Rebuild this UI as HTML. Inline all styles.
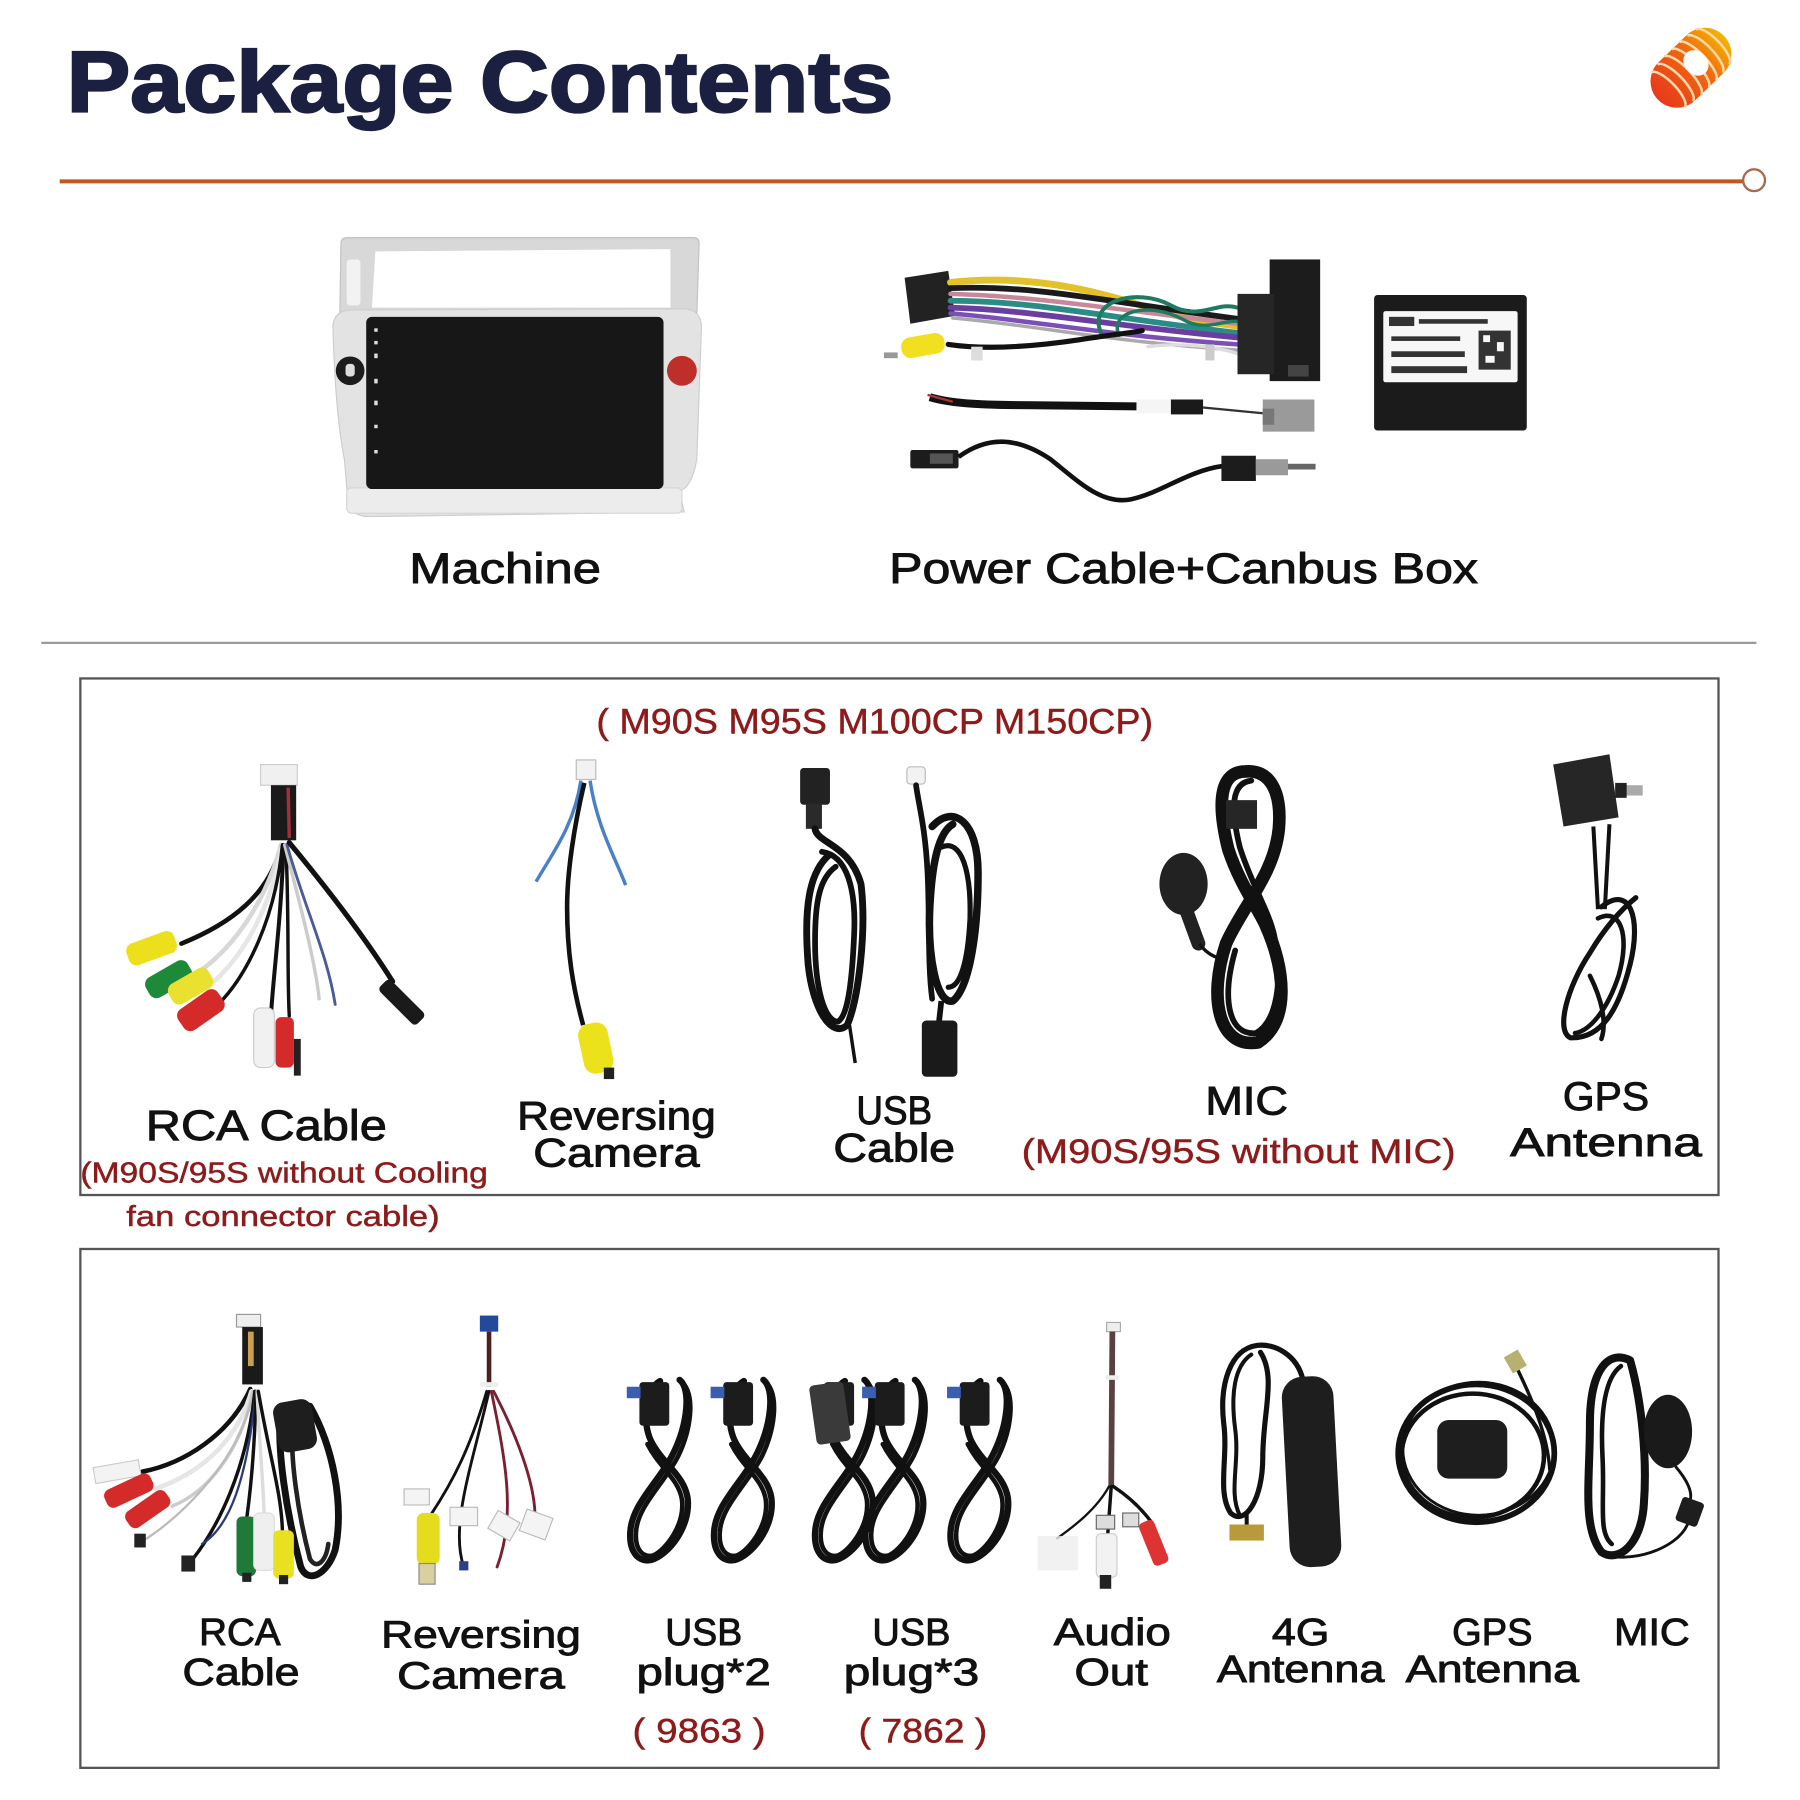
<!DOCTYPE html>
<html><head><meta charset="utf-8"><style>
html,body{margin:0;padding:0;background:#fff;}
svg{display:block;}
text{font-family:"Liberation Sans",Arial,sans-serif;}
.lb{fill:#111;stroke:#111;stroke-width:0.8;}
.rd{fill:#8e1b1b;stroke:#8e1b1b;stroke-width:0.4;}
.c{fill:none;stroke:#111;stroke-linecap:round;stroke-linejoin:round;}
</style></head><body>
<svg width="1800" height="1800" viewBox="0 0 1568 1568" xmlns="http://www.w3.org/2000/svg">
<defs>
<linearGradient id="sg" x1="0" y1="0" x2="1" y2="0">
<stop offset="0" stop-color="#e8381c"/><stop offset="0.6" stop-color="#f06a10"/><stop offset="1" stop-color="#f5b400"/>
</linearGradient>
<g id="u8">
<path class="c" stroke-width="5.5" d="M45,2 C55,10 52,40 40,65 C28,90 3,110 2,135 C1,153 10,161 20,159 C35,155 55,130 52,105 C49,85 30,75 20,55 C12,38 15,10 28,3"/>
<path class="c" stroke-width="4" d="M49,6 C58,18 55,45 44,68 C32,92 8,112 7,135 C6,150 13,157 22,155 C33,150 50,128 47,106 C44,88 27,78 17,58"/>
<rect x="10" y="4" width="26" height="38" rx="3" fill="#1c1c1c"/>
<rect x="-1" y="8" width="12" height="10" fill="#3a5fb0"/>
</g>
</defs>
<rect width="1568" height="1568" fill="#fff"/>

<!-- Title -->
<text x="58" y="97" font-size="75" font-weight="bold" fill="#1c2040" stroke="#1c2040" stroke-width="2" textLength="720" lengthAdjust="spacingAndGlyphs">Package Contents</text>

<!-- spring icon -->
<g transform="translate(1473,59) rotate(-44)">
<rect x="-40" y="-23" width="80" height="46" rx="23" fill="url(#sg)"/>
<path d="M-28,-21 a7 21 0 0 1 0 42 M-19,-22 a7 22 0 0 1 0 44 M-10,-23 a7 23 0 0 1 0 46 M-1,-23 a7 23 0 0 1 0 46 M8,-23 a7 23 0 0 1 0 46 M17,-22 a7 22 0 0 1 0 44 M26,-21 a7 21 0 0 1 0 42" fill="none" stroke="#ffd9a8" stroke-width="2.2"/>
<ellipse cx="6" cy="0" rx="10" ry="12" fill="#fff"/>
</g>

<!-- orange line -->
<line x1="52" y1="158" x2="1518" y2="158" stroke="#c4561c" stroke-width="3.5"/>
<circle cx="1528" cy="157" r="9.5" fill="#fff" stroke="#a8684a" stroke-width="2"/>

<!-- Machine -->
<path d="M297,212 Q297,207 303,207 L604,207 Q609,207 609,212 L607,274 L296,274 Z" fill="#d8d8d8" stroke="#c2c2c2"/>
<path d="M327,219 L584,217 L584,268 L324,268 Z" fill="#fff"/>
<rect x="302" y="226" width="12" height="40" rx="3" fill="#f2f2f2"/>
<path d="M290,284 Q291,271 305,270 L598,269 Q611,271 611,285 L607,400 Q603,424 592,428 L596,446 L320,450 Q305,449 303,436 L300,400 Q292,360 290,284 Z" fill="#e3e3e3" stroke="#cdcdcd"/>
<rect x="302" y="425" width="292" height="22" rx="4" fill="#ececec" stroke="#d6d6d6"/>
<rect x="319" y="276" width="259" height="150" rx="5" fill="#171717"/>
<circle cx="305" cy="323" r="12.5" fill="#1c1c1c"/>
<rect x="301" y="317" width="8" height="11" rx="3" fill="#ddd"/>
<circle cx="594" cy="323" r="13" fill="#bf2f2a"/>
<g fill="#ddd"><rect x="326" y="286" width="3" height="3"/><rect x="326" y="297" width="3" height="3"/><rect x="326" y="308" width="3" height="4"/><rect x="326" y="330" width="3" height="4"/><rect x="326" y="349" width="3" height="4"/><rect x="326" y="370" width="3" height="3"/><rect x="326" y="392" width="3" height="3"/></g>

<!-- Power cable -->
<polygon points="788,242 826,236 832,275 793,282" fill="#222"/>
<g fill="none" stroke-linecap="round">
<path d="M828,246 C900,238 960,255 1000,268 C1030,278 1060,282 1078,284" stroke="#e3c12a" stroke-width="6"/>
<path d="M828,251 C900,248 960,262 1080,278" stroke="#1a1a1a" stroke-width="5"/>
<path d="M828,256 C900,258 960,268 1078,282" stroke="#c9889a" stroke-width="4"/>
<path d="M828,262 C900,262 960,276 1078,290" stroke="#2a8c84" stroke-width="5"/>
<path d="M828,268 C900,270 960,283 1078,294" stroke="#6a3ea0" stroke-width="5"/>
<path d="M828,273 C900,279 960,292 1078,300" stroke="#7b4fb5" stroke-width="4"/>
<path d="M830,277 C900,283 960,297 1078,305" stroke="#aaa" stroke-width="3"/>
<path d="M960,292 C945,262 990,250 1020,266 C1045,280 1060,262 1078,268" stroke="#1e7a60" stroke-width="3.5"/>
<path d="M975,292 C965,272 1000,262 1030,278 C1050,290 1065,278 1080,280" stroke="#1e7a60" stroke-width="3"/>
<path d="M1000,302 C1030,298 1060,302 1078,308" stroke="#ddd" stroke-width="3"/>
<path d="M826,300 C860,305 900,302 940,296 C965,292 985,290 995,288" stroke="#111" stroke-width="4.5"/>
</g>
<rect x="1106" y="226" width="44" height="106" fill="#1c1c1c"/>
<rect x="1078" y="256" width="32" height="70" fill="#262626"/>
<rect x="1122" y="318" width="18" height="10" fill="#444"/>
<rect x="785" y="292" width="38" height="18" rx="8" fill="#f0e020" transform="rotate(-10 804 301)"/>
<rect x="770" y="307" width="12" height="5" fill="#999"/>
<rect x="846" y="302" width="10" height="12" fill="#ddd"/>
<rect x="1050" y="300" width="8" height="14" fill="#ccc"/>
<path d="M810,346 C830,352 860,353 900,353 L990,354" fill="none" stroke="#111" stroke-width="7"/>
<path d="M808,344 L830,350" stroke="#a33" stroke-width="2"/>
<rect x="990" y="348" width="30" height="12" fill="#f5f5f5"/>
<rect x="1020" y="348" width="28" height="13" fill="#1a1a1a"/>
<path d="M1048,355 L1100,360" stroke="#333" stroke-width="2"/>
<rect x="1100" y="348" width="45" height="28" fill="#9a9a9a"/>
<rect x="1100" y="356" width="10" height="14" fill="#777"/>
<rect x="793" y="392" width="42" height="16" rx="2" fill="#1c1c1c"/>
<rect x="810" y="395" width="20" height="9" fill="#555"/>
<path d="M835,398 C860,380 885,380 915,400 C940,420 960,440 985,435 C1010,430 1035,410 1065,406" fill="none" stroke="#111" stroke-width="4"/>
<rect x="1064" y="397" width="30" height="22" fill="#1c1c1c"/>
<rect x="1094" y="400" width="28" height="14" fill="#9a9a9a"/>
<rect x="1122" y="404" width="24" height="5" fill="#666"/>
<!-- canbus -->
<rect x="1197" y="257" width="133" height="118" rx="3" fill="#1b1b1b"/>
<rect x="1205" y="271" width="117" height="62" rx="2" fill="#f7f7f7"/>
<g fill="#333"><rect x="1210" y="276" width="22" height="8"/><rect x="1236" y="278" width="60" height="4"/><rect x="1212" y="293" width="60" height="4"/><rect x="1212" y="306" width="64" height="5"/><rect x="1212" y="319" width="66" height="6"/><rect x="1288" y="288" width="28" height="34"/></g>
<g fill="#f7f7f7"><rect x="1292" y="292" width="6" height="6"/><rect x="1304" y="298" width="6" height="8"/><rect x="1294" y="310" width="8" height="6"/></g>

<text x="440" y="508" font-size="37" class="lb" text-anchor="middle" textLength="167" lengthAdjust="spacingAndGlyphs">Machine</text>
<text x="1031" y="508" font-size="37" class="lb" text-anchor="middle" textLength="513" lengthAdjust="spacingAndGlyphs">Power Cable+Canbus Box</text>

<line x1="36" y1="560" x2="1530" y2="560" stroke="#9a9a9a" stroke-width="2"/>

<!-- Box 1 -->
<rect x="70" y="591" width="1427" height="450" fill="none" stroke="#555" stroke-width="2"/>
<text x="762" y="639" font-size="31" class="rd" text-anchor="middle" textLength="485" lengthAdjust="spacingAndGlyphs">( M90S M95S M100CP M150CP)</text>

<!-- RCA row1 -->
<rect x="227" y="666" width="32" height="18" fill="#f0f0f0" stroke="#ccc"/>
<rect x="236" y="684" width="22" height="48" fill="#1a1a1a"/>
<path d="M251,686 L252,730" stroke="#a0303a" stroke-width="3"/>
<g fill="none" stroke-linecap="round">
<path d="M245,736 C235,780 200,805 158,822" stroke="#111" stroke-width="4"/>
<path d="M245,736 C230,790 200,830 168,850" stroke="#d8d8d8" stroke-width="4"/>
<path d="M246,736 C235,795 210,835 183,858" stroke="#e6e6e6" stroke-width="4"/>
<path d="M246,736 C240,800 215,850 190,875" stroke="#111" stroke-width="3"/>
<path d="M247,736 C245,800 238,850 236,885" stroke="#111" stroke-width="3.5"/>
<path d="M249,736 C252,800 250,850 252,885" stroke="#111" stroke-width="3"/>
<path d="M248,736 C262,790 275,840 278,870" stroke="#ccc" stroke-width="3"/>
<path d="M250,736 C265,790 285,830 292,875" stroke="#4a5a9a" stroke-width="2.5"/>
<path d="M252,734 C290,780 320,820 342,855" stroke="#111" stroke-width="4.5"/>
</g>
<rect x="110" y="816" width="44" height="20" rx="7" fill="#ecdf1c" transform="rotate(-20 132 826)"/>
<rect x="126" y="843" width="42" height="20" rx="7" fill="#1d8a3a" transform="rotate(-30 147 853)"/>
<rect x="146" y="849" width="40" height="20" rx="7" fill="#e9e030" transform="rotate(-30 166 859)"/>
<rect x="154" y="869" width="42" height="22" rx="7" fill="#d42a2a" transform="rotate(-35 175 880)"/>
<rect x="221" y="878" width="18" height="52" rx="6" fill="#f1f1f1" stroke="#ccc"/>
<rect x="240" y="886" width="16" height="44" rx="5" fill="#d42a2a"/>
<rect x="256" y="905" width="6" height="32" fill="#222"/>
<rect x="343" y="850" width="14" height="46" rx="4" fill="#1a1a1a" transform="rotate(-45 350 873)"/>

<!-- Reversing row1 -->
<rect x="502" y="662" width="17" height="17" fill="#f2f2f2" stroke="#bbb"/>
<path d="M506,680 C500,720 480,745 467,768" fill="none" stroke="#4a80c8" stroke-width="3"/>
<path d="M514,680 C520,720 535,745 545,771" fill="none" stroke="#4a80c8" stroke-width="3"/>
<path d="M509,682 C500,720 494,760 494,790 C494,830 499,860 508,893" fill="none" stroke="#111" stroke-width="4"/>
<rect x="506" y="891" width="26" height="44" rx="10" fill="#ece21c" transform="rotate(-12 519 913)"/>
<rect x="526" y="930" width="9" height="10" fill="#222"/>

<!-- USB row1 -->
<rect x="697" y="669" width="26" height="32" rx="3" fill="#222"/>
<rect x="702" y="700" width="14" height="22" fill="#2a2a2a"/>
<path class="c" stroke-width="6" d="M710,722 C712,735 740,735 750,770 C755,810 748,870 738,893 C725,905 708,880 704,840 C700,790 705,760 722,745"/>
<path class="c" stroke-width="5" d="M716,742 C738,745 746,775 744,815 C742,860 738,885 730,890 C718,890 710,860 710,820 C710,785 714,765 728,755"/>
<path d="M740,893 L745,926" stroke="#111" stroke-width="3"/>
<rect x="790" y="668" width="16" height="15" rx="3" fill="#f2f2f2" stroke="#bbb"/>
<path class="c" stroke-width="5" d="M798,684 C800,700 806,720 808,760 C810,800 808,840 812,870"/>
<path class="c" stroke-width="6.5" d="M812,720 C830,700 852,715 852,760 C852,810 845,860 830,872 C815,875 808,830 810,790 C812,750 818,725 830,718"/>
<path class="c" stroke-width="4.5" d="M820,738 C838,730 846,760 845,800 C843,840 836,860 826,860"/>
<path d="M820,872 L818,890" stroke="#111" stroke-width="5"/>
<rect x="803" y="889" width="31" height="49" rx="4" fill="#1a1a1a"/>

<!-- MIC row1 -->
<ellipse cx="1031" cy="770" rx="21" ry="27" fill="#222"/>
<path d="M1033,792 L1044,822" stroke="#222" stroke-width="12" stroke-linecap="round"/>
<path d="M1045,822 C1050,830 1058,834 1066,836" fill="none" stroke="#111" stroke-width="3"/>
<path class="c" stroke="#1a1a1a" stroke-width="11" d="M1085,672 C1062,672 1060,700 1070,740 C1080,770 1095,790 1102,805 C1120,845 1124,890 1096,908 C1062,914 1052,870 1068,822 C1082,790 1110,762 1114,722 C1117,688 1105,670 1085,672 Z"/>
<path class="c" stroke="#2a2a2a" stroke-width="5" d="M1090,680 C1072,682 1072,705 1080,738 C1090,770 1106,795 1110,815 C1118,855 1112,890 1094,900 C1070,902 1064,870 1076,828"/>
<rect x="1068" y="697" width="27" height="25" fill="#262626"/>

<!-- GPS row1 -->
<polygon points="1353,666 1402,657 1410,712 1362,720" fill="#262626"/>
<rect x="1407" y="684" width="24" height="9" fill="#aaa"/>
<rect x="1407" y="682" width="10" height="13" fill="#222"/>
<path d="M1388,720 L1392,792 M1402,718 L1398,792" stroke="#111" stroke-width="3.5"/>
<path class="c" stroke-width="4.5" d="M1395,790 C1420,770 1430,800 1420,840 C1410,880 1395,905 1368,904 C1355,898 1365,860 1385,830 C1400,805 1415,790 1425,782"/>
<path class="c" stroke-width="4" d="M1392,800 C1412,790 1420,815 1410,850 C1400,880 1385,898 1372,900 M1385,850 C1395,870 1400,890 1395,905"/>

<!-- Row1 labels -->
<text x="232" y="993" font-size="37" class="lb" text-anchor="middle" textLength="210" lengthAdjust="spacingAndGlyphs">RCA Cable</text>
<text x="70" y="1030" font-size="25" class="rd" textLength="355" lengthAdjust="spacingAndGlyphs">(M90S/95S without Cooling</text>
<text x="110" y="1068" font-size="25" class="rd" textLength="273" lengthAdjust="spacingAndGlyphs">fan connector cable)</text>
<text x="537" y="984" font-size="35" class="lb" text-anchor="middle" textLength="173" lengthAdjust="spacingAndGlyphs">Reversing</text>
<text x="537" y="1016" font-size="35" class="lb" text-anchor="middle" textLength="145" lengthAdjust="spacingAndGlyphs">Camera</text>
<text x="779" y="979" font-size="35" class="lb" text-anchor="middle" textLength="66" lengthAdjust="spacingAndGlyphs">USB</text>
<text x="779" y="1012" font-size="35" class="lb" text-anchor="middle" textLength="106" lengthAdjust="spacingAndGlyphs">Cable</text>
<text x="1086" y="971" font-size="35" class="lb" text-anchor="middle" textLength="72" lengthAdjust="spacingAndGlyphs">MIC</text>
<text x="1079" y="1013" font-size="30" class="rd" text-anchor="middle" textLength="378" lengthAdjust="spacingAndGlyphs">(M90S/95S without MIC)</text>
<text x="1399" y="967" font-size="35" class="lb" text-anchor="middle" textLength="75" lengthAdjust="spacingAndGlyphs">GPS</text>
<text x="1399" y="1007" font-size="35" class="lb" text-anchor="middle" textLength="167" lengthAdjust="spacingAndGlyphs">Antenna</text>

<!-- Box 2 -->
<rect x="70" y="1088" width="1427" height="452" fill="none" stroke="#555" stroke-width="2"/>

<!-- RCA row2 -->
<rect x="206" y="1145" width="21" height="11" fill="#eee" stroke="#999"/>
<rect x="211" y="1156" width="18" height="50" fill="#1a1a1a"/>
<rect x="216" y="1160" width="5" height="30" fill="#c9a050"/>
<g fill="none" stroke-linecap="round">
<path d="M218,1210 C200,1250 160,1275 124,1282" stroke="#111" stroke-width="4"/>
<path d="M219,1212 C205,1260 170,1285 135,1297" stroke="#e6e6e6" stroke-width="4"/>
<path d="M220,1212 C210,1265 180,1300 150,1312" stroke="#ccc" stroke-width="3"/>
<path d="M221,1212 C210,1270 160,1320 125,1342" stroke="#bbb" stroke-width="2"/>
<path d="M222,1212 C215,1280 190,1330 168,1358" stroke="#111" stroke-width="3"/>
<path d="M223,1212 C215,1290 200,1330 176,1345" stroke="#2a3a7a" stroke-width="2"/>
<path d="M223,1212 C222,1260 218,1300 215,1322" stroke="#111" stroke-width="3"/>
<path d="M224,1212 C226,1260 230,1300 230,1320" stroke="#ddd" stroke-width="3"/>
<path d="M225,1212 C235,1270 245,1300 246,1333" stroke="#111" stroke-width="3"/>
<path d="M245,1225 C240,1260 250,1320 262,1365 C268,1380 285,1372 292,1350 C300,1310 290,1260 270,1225" stroke="#111" stroke-width="6"/>
<path d="M255,1235 C252,1270 260,1320 270,1358 C276,1368 284,1360 286,1345" stroke="#222" stroke-width="4"/>
</g>
<rect x="240" y="1220" width="34" height="44" rx="9" fill="#1e1e1e" transform="rotate(-10 257 1242)"/>
<rect x="82" y="1275" width="40" height="14" fill="#f3f3f3" stroke="#ccc" transform="rotate(-10 102 1282)"/>
<rect x="90" y="1290" width="44" height="17" rx="6" fill="#d42a2a" transform="rotate(-25 112 1298)"/>
<rect x="108" y="1306" width="42" height="17" rx="6" fill="#d42a2a" transform="rotate(-35 129 1315)"/>
<rect x="117" y="1336" width="10" height="12" fill="#222"/>
<rect x="158" y="1355" width="12" height="14" fill="#222"/>
<rect x="206" y="1321" width="17" height="52" rx="5" fill="#1f7a3a"/>
<rect x="221" y="1318" width="18" height="50" rx="5" fill="#efefef" stroke="#ddd"/>
<rect x="238" y="1333" width="18" height="42" rx="5" fill="#e9e020"/>
<rect x="211" y="1370" width="8" height="8" fill="#222"/>
<rect x="243" y="1372" width="8" height="8" fill="#222"/>

<!-- Reversing row2 -->
<rect x="418" y="1146" width="16" height="14" fill="#234a9a"/>
<path d="M426,1160 L426,1208" stroke="#4a2020" stroke-width="4"/>
<rect x="418" y="1204" width="16" height="4" fill="#eee"/>
<g fill="none" stroke-linecap="round">
<path d="M424,1212 C410,1260 395,1290 375,1320" stroke="#111" stroke-width="2.5"/>
<path d="M426,1212 C410,1280 392,1330 404,1365" stroke="#111" stroke-width="2.5"/>
<path d="M428,1212 C440,1270 450,1320 433,1365" stroke="#7a2030" stroke-width="2.5"/>
<path d="M430,1212 C450,1250 465,1290 466,1318" stroke="#7a2030" stroke-width="2.5"/>
</g>
<rect x="400" y="1360" width="8" height="8" fill="#2a3f8a"/>
<rect x="363" y="1318" width="20" height="45" rx="6" fill="#e6dc1e"/>
<rect x="365" y="1362" width="14" height="18" fill="#d8d0a0" stroke="#888"/>
<rect x="352" y="1297" width="22" height="14" fill="#f4f4f4" stroke="#bbb"/>
<rect x="392" y="1313" width="24" height="16" fill="#f4f4f4" stroke="#bbb"/>
<rect x="428" y="1320" width="22" height="18" fill="#f4f4f4" stroke="#bbb" transform="rotate(30 439 1329)"/>
<rect x="455" y="1318" width="24" height="20" fill="#f4f4f4" stroke="#bbb" transform="rotate(20 467 1328)"/>

<!-- USB plugs -->
<use href="#u8" x="547" y="1200"/>
<use href="#u8" x="620" y="1200"/>
<use href="#u8" x="708" y="1200"/>
<rect x="708" y="1205" width="30" height="52" rx="4" fill="#3a3a3a" transform="rotate(-8 723 1231)"/>
<use href="#u8" x="752" y="1200"/>
<use href="#u8" x="826" y="1200"/>

<!-- Audio Out -->
<rect x="964" y="1152" width="12" height="8" fill="#eee" stroke="#aaa"/>
<path d="M969,1160 L968,1295" stroke="#5a4040" stroke-width="5"/>
<rect x="963" y="1198" width="12" height="4" fill="#eee"/>
<g fill="none" stroke-linecap="round">
<path d="M966,1295 C955,1315 935,1330 921,1340" stroke="#111" stroke-width="2"/>
<path d="M968,1295 L965,1336" stroke="#111" stroke-width="3"/>
<path d="M970,1295 C985,1305 995,1315 1003,1326" stroke="#111" stroke-width="3"/>
</g>
<rect x="904" y="1338" width="35" height="30" fill="#eee" opacity="0.8"/>
<rect x="955" y="1336" width="18" height="38" rx="4" fill="#f2f2f2" stroke="#ccc"/>
<rect x="958" y="1372" width="10" height="12" fill="#222"/>
<rect x="998" y="1324" width="14" height="40" rx="4" fill="#d33" transform="rotate(-22 1005 1344)"/>
<rect x="955" y="1320" width="16" height="12" fill="#ddd" stroke="#666"/>
<rect x="978" y="1318" width="14" height="12" fill="#ddd" stroke="#666"/>

<!-- 4G Antenna -->
<g class="c">
<path stroke-width="4.5" d="M1135,1202 C1130,1180 1110,1170 1095,1172 C1072,1175 1062,1205 1066,1240 C1070,1270 1060,1300 1072,1318 C1085,1330 1100,1305 1100,1270 C1100,1230 1112,1200 1098,1178"/>
<path stroke-width="3.5" d="M1090,1180 C1075,1190 1072,1215 1076,1245 C1080,1275 1070,1300 1080,1320 M1086,1320 L1086,1332"/>
</g>
<rect x="1120" y="1199" width="45" height="166" rx="18" fill="#1e1e1e" transform="rotate(-3 1142 1282)"/>
<rect x="1071" y="1328" width="30" height="14" fill="#b89a3a"/>

<!-- GPS Antenna row2 -->
<g class="c">
<ellipse cx="1286" cy="1266" rx="68" ry="60" stroke-width="5"/>
<ellipse cx="1283" cy="1268" rx="62" ry="54" stroke-width="4"/>
<ellipse cx="1288" cy="1262" rx="66" ry="58" stroke-width="2.5"/>
<path stroke-width="3" d="M1322,1193 C1335,1220 1348,1250 1350,1280"/>
</g>
<rect x="1252" y="1237" width="61" height="51" rx="10" fill="#1e1e1e"/>
<rect x="1313" y="1178" width="14" height="16" fill="#b8b070" transform="rotate(-30 1320 1186)"/>

<!-- MIC row2 -->
<g class="c">
<path stroke-width="7" d="M1420,1185 C1400,1175 1385,1195 1385,1240 C1385,1290 1378,1330 1395,1352 C1410,1362 1430,1345 1432,1310 C1435,1270 1430,1220 1420,1185"/>
<path stroke-width="4" d="M1412,1190 C1398,1200 1394,1230 1396,1270 C1398,1310 1392,1335 1404,1345"/>
<path stroke-width="2.5" d="M1460,1278 C1470,1290 1475,1300 1472,1308 M1470,1328 C1460,1350 1420,1362 1395,1354"/>
</g>
<ellipse cx="1453" cy="1247" rx="21" ry="32" fill="#1a1a1a"/>
<rect x="1462" y="1306" width="20" height="22" rx="3" fill="#1e1e1e" transform="rotate(20 1472 1317)"/>

<!-- Row2 labels -->
<text x="209" y="1433" font-size="33" class="lb" text-anchor="middle" textLength="71" lengthAdjust="spacingAndGlyphs">RCA</text>
<text x="210" y="1468" font-size="33" class="lb" text-anchor="middle" textLength="102" lengthAdjust="spacingAndGlyphs">Cable</text>
<text x="419" y="1435" font-size="33" class="lb" text-anchor="middle" textLength="174" lengthAdjust="spacingAndGlyphs">Reversing</text>
<text x="419" y="1471" font-size="33" class="lb" text-anchor="middle" textLength="146" lengthAdjust="spacingAndGlyphs">Camera</text>
<text x="613" y="1433" font-size="33" class="lb" text-anchor="middle" textLength="67" lengthAdjust="spacingAndGlyphs">USB</text>
<text x="613" y="1468" font-size="33" class="lb" text-anchor="middle" textLength="117" lengthAdjust="spacingAndGlyphs">plug*2</text>
<text x="609" y="1518" font-size="30" class="rd" text-anchor="middle" textLength="116" lengthAdjust="spacingAndGlyphs">( 9863 )</text>
<text x="794" y="1433" font-size="33" class="lb" text-anchor="middle" textLength="68" lengthAdjust="spacingAndGlyphs">USB</text>
<text x="794" y="1468" font-size="33" class="lb" text-anchor="middle" textLength="118" lengthAdjust="spacingAndGlyphs">plug*3</text>
<text x="804" y="1518" font-size="30" class="rd" text-anchor="middle" textLength="112" lengthAdjust="spacingAndGlyphs">( 7862 )</text>
<text x="969" y="1433" font-size="33" class="lb" text-anchor="middle" textLength="102" lengthAdjust="spacingAndGlyphs">Audio</text>
<text x="968" y="1468" font-size="33" class="lb" text-anchor="middle" textLength="64" lengthAdjust="spacingAndGlyphs">Out</text>
<text x="1133" y="1433" font-size="33" class="lb" text-anchor="middle" textLength="50" lengthAdjust="spacingAndGlyphs">4G</text>
<text x="1133" y="1465" font-size="33" class="lb" text-anchor="middle" textLength="146" lengthAdjust="spacingAndGlyphs">Antenna</text>
<text x="1300" y="1433" font-size="33" class="lb" text-anchor="middle" textLength="70" lengthAdjust="spacingAndGlyphs">GPS</text>
<text x="1300" y="1465" font-size="33" class="lb" text-anchor="middle" textLength="151" lengthAdjust="spacingAndGlyphs">Antenna</text>
<text x="1439" y="1433" font-size="33" class="lb" text-anchor="middle" textLength="66" lengthAdjust="spacingAndGlyphs">MIC</text>
</svg>
</body></html>
